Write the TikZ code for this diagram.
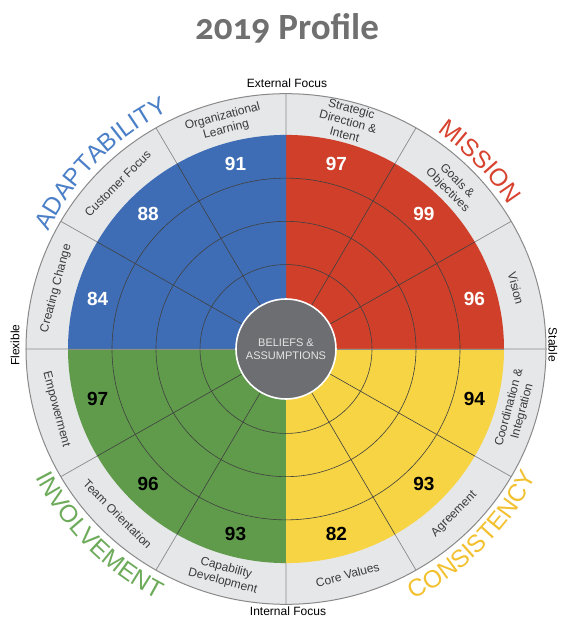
\documentclass[tikz,border=0pt]{standalone}
\usepackage{fontspec}
\setmainfont{Liberation Sans}
\newfontfamily\titlefont[Numbers=OldStyle]{Carlito}
\usetikzlibrary{decorations.text}
\usepackage{xcolor}

\definecolor{adaptblue}{HTML}{3E6DB5}
\definecolor{missionred}{HTML}{CF3F2A}
\definecolor{involvegreen}{HTML}{5F9B4B}
\definecolor{consistyellow}{HTML}{F6D443}
\definecolor{adapttext}{HTML}{4B7FC7}
\definecolor{missiontext}{HTML}{D8432F}
\definecolor{involvetext}{HTML}{6DAA5A}
\definecolor{consisttext}{HTML}{F3C12F}
\definecolor{ringgray}{HTML}{E6E7E9}
\definecolor{ringedge}{HTML}{8A8A8A}
\definecolor{coregray}{HTML}{6D6E71}
\definecolor{labelgray}{HTML}{3A3A3A}
\definecolor{titlegray}{HTML}{707070}

\newcommand{\catfont}{\fontsize{24.5}{24.5}\selectfont}

\begin{document}
\begin{tikzpicture}[
    x=1pt, y=1pt,
    ringline/.style={draw=ringedge, line width=0.7pt},
    gridline/.style={draw=black!75, line width=0.6pt},
    sectorlabel/.style={align=center, text=labelgray, font=\fontsize{12}{13.5}\selectfont, inner sep=0pt},
    score/.style={font=\fontsize{19}{19}\selectfont\bfseries, inner sep=0pt},
    axistext/.style={font=\fontsize{12}{12}\selectfont, inner sep=0pt}
]
    % Canvas
    \fill[white] (-286,-269) rectangle (274,349);
    \useasboundingbox (-286,-269) rectangle (274,349);

    % Title
    \node[font=\titlefont\bfseries\fontsize{37}{37}\selectfont, text=titlegray] (title) at (1,321) {2019 Profile};

    \begin{scope}[yscale=0.982]
    % Outer gray ring
    \fill[ringgray] (0,0) circle[radius=260pt];
    \draw[ringedge, line width=1pt] (0,0) circle[radius=260pt];

    % Four quadrants
    \fill[missionred] (0,0) -- (0:218pt) arc[start angle=0, end angle=90, radius=218pt] -- cycle;
    \fill[adaptblue] (0,0) -- (90:218pt) arc[start angle=90, end angle=180, radius=218pt] -- cycle;
    \fill[involvegreen] (0,0) -- (180:218pt) arc[start angle=180, end angle=270, radius=218pt] -- cycle;
    \fill[consistyellow] (0,0) -- (270:218pt) arc[start angle=270, end angle=360, radius=218pt] -- cycle;

    % Score rings and spokes
    \draw[gridline] (0,0) circle[radius=174pt] (0,0) circle[radius=130pt] (0,0) circle[radius=86pt];
    \draw[gridline] (30:40pt) -- (30:218pt) (60:40pt) -- (60:218pt)
        (120:40pt) -- (120:218pt) (150:40pt) -- (150:218pt)
        (210:40pt) -- (210:218pt) (240:40pt) -- (240:218pt)
        (300:40pt) -- (300:218pt) (330:40pt) -- (330:218pt);
    \draw[gridline, draw=black!45] (0:40pt) -- (0:218pt) (180:40pt) -- (180:218pt);

    % Dividers in the gray ring
    \draw[ringline] (0:218pt) -- (0:260pt) (30:218pt) -- (30:260pt) (60:218pt) -- (60:260pt)
        (90:218pt) -- (90:260pt) (120:218pt) -- (120:260pt) (150:218pt) -- (150:260pt)
        (180:218pt) -- (180:260pt) (210:218pt) -- (210:260pt) (240:218pt) -- (240:260pt)
        (270:218pt) -- (270:260pt) (300:218pt) -- (300:260pt) (330:218pt) -- (330:260pt);

    % Core
    \node[circle, fill=coregray, draw=white, line width=1.6pt, minimum size=100pt, inner sep=0pt,
        align=center, text=white!82!coregray, font=\fontsize{11}{13}\selectfont] (core) at (0,0) {BELIEFS \&\\ASSUMPTIONS};

    % Ring labels - top half
    \node[sectorlabel, rotate=15] (orglearn) at (105:238pt) {Organizational\\Learning};
    \node[sectorlabel, rotate=45] (custfocus) at (135:238pt) {Customer Focus};
    \node[sectorlabel, rotate=75] (creatchange) at (165:238pt) {Creating Change};
    \node[sectorlabel, rotate=-15] (strategic) at (75:240pt) {Strategic\\Direction \&\\Intent};
    \node[sectorlabel, rotate=-45] (goals) at (45:235pt) {Goals \&\\Objectives};
    \node[sectorlabel, rotate=-75] (vision) at (15:238pt) {Vision};

    % Ring labels - bottom half
    \node[sectorlabel, rotate=-75] (empower) at (195:238pt) {Empowerment};
    \node[sectorlabel, rotate=-45] (teamorient) at (225:238pt) {Team Orientation};
    \node[sectorlabel, rotate=-15] (capdev) at (255:238pt) {Capability\\Development};
    \node[sectorlabel, rotate=15] (corevalues) at (285:238pt) {Core Values};
    \node[sectorlabel, rotate=45] (agreement) at (315:238pt) {Agreement};
    \node[sectorlabel, rotate=75] (coordination) at (345:238pt) {Coordination \&\\Integration};

    % Scores
    \node[score, text=white] (s91) at (105:195pt) {91};
    \node[score, text=white] (s88) at (135:195pt) {88};
    \node[score, text=white] (s84) at (165:195pt) {84};
    \node[score, text=white] (s97a) at (75:195pt) {97};
    \node[score, text=white] (s99) at (45:195pt) {99};
    \node[score, text=white] (s96a) at (15:195pt) {96};
    \node[score] (s97b) at (195:195pt) {97};
    \node[score] (s96b) at (225:195pt) {96};
    \node[score] (s93a) at (255:195pt) {93};
    \node[score] (s82) at (285:195pt) {82};
    \node[score] (s93b) at (315:195pt) {93};
    \node[score] (s94) at (345:195pt) {94};
    \end{scope}

    % Axis labels
    \node[axistext] (external) at (1,266) {External Focus};
    \node[axistext] (internal) at (2,-262.5) {Internal Focus};
    \node[axistext, rotate=90] (flexible) at (-271,4) {Flexible};
    \node[axistext, rotate=-90] (stable) at (267,4) {Stable};

    % Culture traits around the wheel
    \path[decorate, decoration={text along path, text align=center,
        text={|\catfont\color{adapttext}|ADAPTABILITY}}]
        (175:265pt) arc[start angle=175, end angle=95, radius=265pt];
    \path[decorate, decoration={text along path, text align=center,
        text={|\catfont\color{missiontext}|MISSION}}]
        (84:265pt) arc[start angle=84, end angle=4, radius=265pt];
    \path[decorate, decoration={text along path, text align=center,
        text={|\catfont\color{involvetext}|INVOLVEMENT}}]
        (185:281pt) arc[start angle=185, end angle=265, radius=281pt];
    \path[decorate, decoration={text along path, text align=center,
        text={|\catfont\color{consisttext}|CONSISTENCY}}]
        (275:281pt) arc[start angle=275, end angle=355, radius=281pt];
\end{tikzpicture}
\end{document}
